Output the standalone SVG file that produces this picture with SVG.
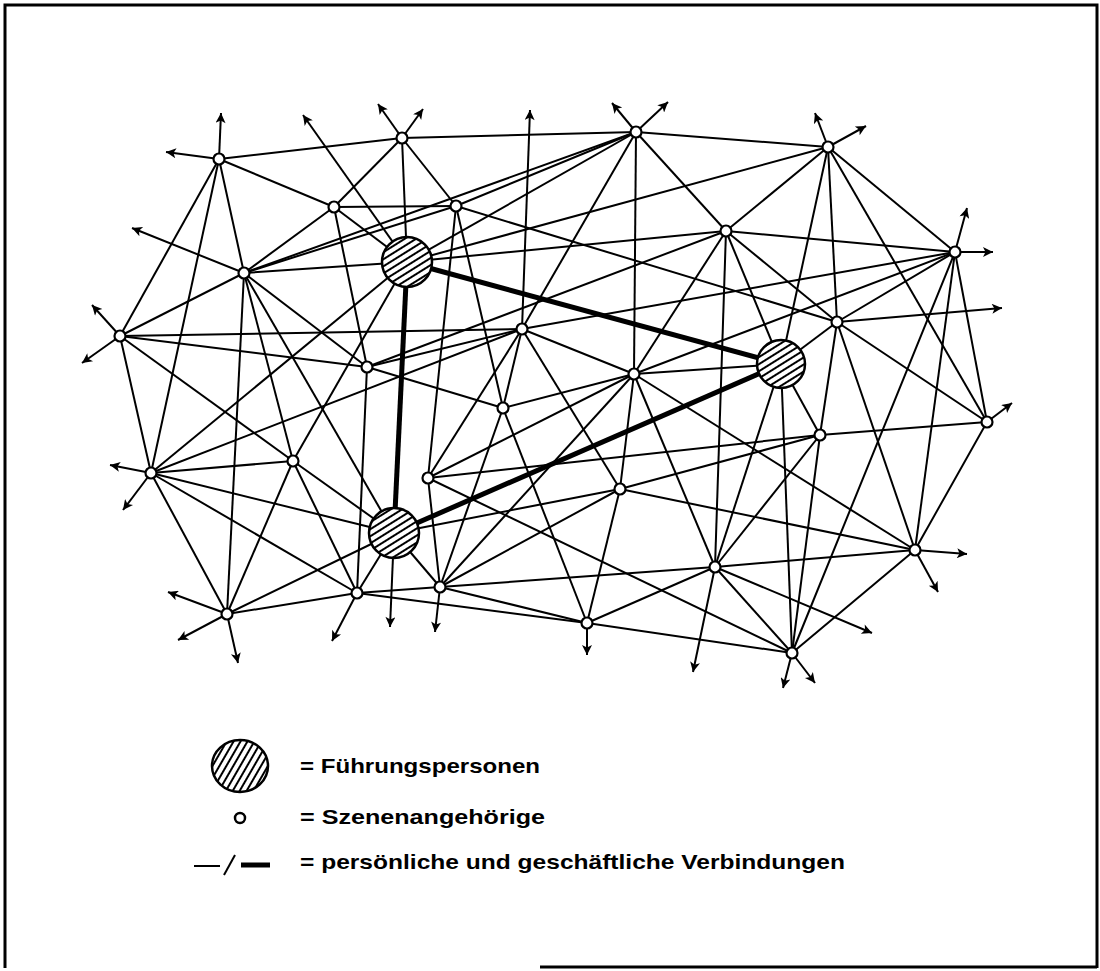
<svg xmlns="http://www.w3.org/2000/svg" width="1100" height="971" viewBox="0 0 1100 971">
  <defs>
    <marker id="arr" viewBox="0 0 10 10" refX="10" refY="5" markerWidth="16" markerHeight="10" markerUnits="userSpaceOnUse" orient="auto">
      <path d="M0,0 L10,5 L0,10 L2.5,5 z" fill="#000"/>
    </marker>
    <pattern id="hatch" patternUnits="userSpaceOnUse" width="6" height="6" patternTransform="rotate(-32)">
      <rect width="6" height="6" fill="#fff"/>
      <line x1="0" y1="3" x2="6" y2="3" stroke="#000" stroke-width="2"/>
    </pattern>
    <pattern id="hatchLegend" patternUnits="userSpaceOnUse" width="6" height="6" patternTransform="rotate(-60)">
      <rect width="6" height="6" fill="#fff"/>
      <line x1="0" y1="3" x2="6" y2="3" stroke="#000" stroke-width="2"/>
    </pattern>
  </defs>
  <style>
    .ln { stroke: #000; stroke-width: 2; fill: none; }
    .thick { stroke: #000; stroke-width: 5; fill: none; }
    .ar { stroke: #000; stroke-width: 2; fill: none; marker-end: url(#arr); }
    .sm { fill: #fff; stroke: #000; stroke-width: 2.2; }
    .big { fill: url(#hatch); stroke: #000; stroke-width: 2.5; }
    .frame { stroke: #000; stroke-width: 3; fill: none; }
    .lg { font-family: "Liberation Sans", Arial, sans-serif; font-weight: bold; font-size: 21px; fill: #000; }
  </style>

  <rect width="1100" height="971" fill="#fff"/>

  <!-- border -->
  <g id="frame">
    <path class="frame" d="M5,968 L5,5 L1097,5 L1097,968"/>
    <path class="frame" d="M540,967 L1097,967"/>
  </g>

  <!-- connectors -->
  <g id="connectors">
    <!-- outer ring -->
    <line class="ln" x1="219" y1="159" x2="402" y2="138"/>
    <line class="ln" x1="402" y1="138" x2="636" y2="132"/>
    <line class="ln" x1="636" y1="132" x2="828" y2="147"/>
    <line class="ln" x1="828" y1="147" x2="955" y2="252"/>
    <line class="ln" x1="955" y1="252" x2="987" y2="422"/>
    <line class="ln" x1="987" y1="422" x2="915" y2="550"/>
    <line class="ln" x1="915" y1="550" x2="792" y2="653"/>
    <line class="ln" x1="792" y1="653" x2="587" y2="623"/>
    <line class="ln" x1="587" y1="623" x2="357" y2="593"/>
    <line class="ln" x1="357" y1="593" x2="227" y2="614"/>
    <line class="ln" x1="227" y1="614" x2="151" y2="473"/>
    <line class="ln" x1="151" y1="473" x2="120" y2="336"/>
    <line class="ln" x1="120" y1="336" x2="219" y2="159"/>
    <!-- A -->
    <line class="ln" x1="219" y1="159" x2="334" y2="207"/>
    <line class="ln" x1="219" y1="159" x2="244" y2="273"/>
    <line class="ln" x1="219" y1="159" x2="151" y2="473"/>
    <!-- B -->
    <line class="ln" x1="334" y1="207" x2="402" y2="138"/>
    <line class="ln" x1="334" y1="207" x2="456" y2="206"/>
    <line class="ln" x1="334" y1="207" x2="407" y2="262"/>
    <line class="ln" x1="334" y1="207" x2="367" y2="367"/>
    <line class="ln" x1="334" y1="207" x2="244" y2="273"/>
    <!-- C -->
    <line class="ln" x1="402" y1="138" x2="456" y2="206"/>
    <line class="ln" x1="402" y1="138" x2="407" y2="262"/>
    <!-- D -->
    <line class="ln" x1="456" y1="206" x2="636" y2="132"/>
    <line class="ln" x1="456" y1="206" x2="244" y2="273"/>
    <line class="ln" x1="456" y1="206" x2="428" y2="478"/>
    <line class="ln" x1="456" y1="206" x2="503" y2="408"/>
    <line class="ln" x1="456" y1="206" x2="837" y2="322"/>
    <!-- E -->
    <line class="ln" x1="636" y1="132" x2="244" y2="273"/>
    <line class="ln" x1="636" y1="132" x2="726" y2="231"/>
    <line class="ln" x1="636" y1="132" x2="634" y2="374"/>
    <line class="ln" x1="636" y1="132" x2="522" y2="329"/>
    <line class="ln" x1="636" y1="132" x2="407" y2="262"/>
    <!-- F -->
    <line class="ln" x1="828" y1="147" x2="407" y2="262"/>
    <line class="ln" x1="828" y1="147" x2="726" y2="231"/>
    <line class="ln" x1="828" y1="147" x2="837" y2="322"/>
    <line class="ln" x1="828" y1="147" x2="987" y2="422"/>
    <line class="ln" x1="828" y1="147" x2="781" y2="364"/>
    <!-- G -->
    <line class="ln" x1="726" y1="231" x2="407" y2="262"/>
    <line class="ln" x1="726" y1="231" x2="367" y2="367"/>
    <line class="ln" x1="726" y1="231" x2="634" y2="374"/>
    <line class="ln" x1="726" y1="231" x2="715" y2="567"/>
    <line class="ln" x1="726" y1="231" x2="781" y2="364"/>
    <line class="ln" x1="726" y1="231" x2="837" y2="322"/>
    <line class="ln" x1="726" y1="231" x2="955" y2="252"/>
    <!-- H -->
    <line class="ln" x1="955" y1="252" x2="522" y2="329"/>
    <line class="ln" x1="955" y1="252" x2="634" y2="374"/>
    <line class="ln" x1="955" y1="252" x2="837" y2="322"/>
    <line class="ln" x1="955" y1="252" x2="792" y2="653"/>
    <line class="ln" x1="955" y1="252" x2="915" y2="550"/>
    <!-- I -->
    <line class="ln" x1="244" y1="273" x2="120" y2="336"/>
    <line class="ln" x1="244" y1="273" x2="407" y2="262"/>
    <line class="ln" x1="244" y1="273" x2="293" y2="461"/>
    <line class="ln" x1="244" y1="273" x2="367" y2="367"/>
    <line class="ln" x1="244" y1="273" x2="227" y2="614"/>
    <line class="ln" x1="244" y1="273" x2="394" y2="533"/>
    <!-- J -->
    <line class="ln" x1="120" y1="336" x2="522" y2="329"/>
    <line class="ln" x1="120" y1="336" x2="367" y2="367"/>
    <line class="ln" x1="120" y1="336" x2="293" y2="461"/>
    <!-- K -->
    <line class="ln" x1="522" y1="329" x2="367" y2="367"/>
    <line class="ln" x1="522" y1="329" x2="503" y2="408"/>
    <line class="ln" x1="522" y1="329" x2="634" y2="374"/>
    <line class="ln" x1="522" y1="329" x2="620" y2="489"/>
    <line class="ln" x1="522" y1="329" x2="428" y2="478"/>
    <line class="ln" x1="522" y1="329" x2="151" y2="473"/>
    <!-- L -->
    <line class="ln" x1="837" y1="322" x2="781" y2="364"/>
    <line class="ln" x1="837" y1="322" x2="820" y2="435"/>
    <line class="ln" x1="837" y1="322" x2="987" y2="422"/>
    <line class="ln" x1="837" y1="322" x2="915" y2="550"/>
    <!-- L2 -->
    <line class="ln" x1="781" y1="364" x2="820" y2="435"/>
    <line class="ln" x1="781" y1="364" x2="715" y2="567"/>
    <line class="ln" x1="781" y1="364" x2="792" y2="653"/>
    <line class="ln" x1="781" y1="364" x2="634" y2="374"/>
    <!-- M -->
    <line class="ln" x1="367" y1="367" x2="357" y2="593"/>
    <line class="ln" x1="367" y1="367" x2="503" y2="408"/>
    <!-- N -->
    <line class="ln" x1="634" y1="374" x2="503" y2="408"/>
    <line class="ln" x1="634" y1="374" x2="428" y2="478"/>
    <line class="ln" x1="634" y1="374" x2="620" y2="489"/>
    <line class="ln" x1="634" y1="374" x2="915" y2="550"/>
    <line class="ln" x1="634" y1="374" x2="715" y2="567"/>
    <line class="ln" x1="634" y1="374" x2="440" y2="587"/>
    <!-- O -->
    <line class="ln" x1="503" y1="408" x2="440" y2="587"/>
    <line class="ln" x1="503" y1="408" x2="587" y2="623"/>
    <!-- P -->
    <line class="ln" x1="151" y1="473" x2="293" y2="461"/>
    <line class="ln" x1="151" y1="473" x2="394" y2="533"/>
    <line class="ln" x1="151" y1="473" x2="357" y2="593"/>
    <line class="ln" x1="151" y1="473" x2="407" y2="262"/>
    <!-- Q -->
    <line class="ln" x1="293" y1="461" x2="357" y2="593"/>
    <line class="ln" x1="293" y1="461" x2="227" y2="614"/>
    <line class="ln" x1="293" y1="461" x2="394" y2="533"/>
    <line class="ln" x1="293" y1="461" x2="407" y2="262"/>
    <!-- R -->
    <line class="ln" x1="428" y1="478" x2="440" y2="587"/>
    <line class="ln" x1="428" y1="478" x2="792" y2="653"/>
    <!-- S -->
    <line class="ln" x1="620" y1="489" x2="915" y2="550"/>
    <line class="ln" x1="620" y1="489" x2="587" y2="623"/>
    <line class="ln" x1="620" y1="489" x2="440" y2="587"/>
    <line class="ln" x1="620" y1="489" x2="394" y2="533"/>
    <!-- T -->
    <line class="ln" x1="820" y1="435" x2="715" y2="567"/>
    <line class="ln" x1="820" y1="435" x2="792" y2="653"/>
    <line class="ln" x1="820" y1="435" x2="428" y2="478"/>
    <line class="ln" x1="820" y1="435" x2="620" y2="489"/>
    <line class="ln" x1="820" y1="435" x2="987" y2="422"/>
    <!-- W -->
    <line class="ln" x1="715" y1="567" x2="915" y2="550"/>
    <line class="ln" x1="715" y1="567" x2="792" y2="653"/>
    <line class="ln" x1="715" y1="567" x2="440" y2="587"/>
    <line class="ln" x1="715" y1="567" x2="587" y2="623"/>
    <!-- X, Y, Z -->
    <line class="ln" x1="440" y1="587" x2="357" y2="593"/>
    <line class="ln" x1="440" y1="587" x2="587" y2="623"/>
    <line class="ln" x1="440" y1="587" x2="394" y2="533"/>
    <line class="ln" x1="357" y1="593" x2="394" y2="533"/>
    <line class="ln" x1="227" y1="614" x2="394" y2="533"/>

    <!-- leader ties -->
    <line class="thick" x1="407" y1="262" x2="781" y2="364"/>
    <line class="thick" x1="407" y1="262" x2="394" y2="533"/>
    <line class="thick" x1="394" y1="533" x2="781" y2="364"/>

    <!-- outward arrows -->
    <line class="ar" x1="219" y1="159" x2="221" y2="113"/>
    <line class="ar" x1="219" y1="159" x2="166" y2="152"/>
    <line class="ar" x1="402" y1="138" x2="378" y2="104"/>
    <line class="ar" x1="402" y1="138" x2="423" y2="109"/>
    <line class="ar" x1="636" y1="132" x2="612" y2="103"/>
    <line class="ar" x1="636" y1="132" x2="668" y2="102"/>
    <line class="ar" x1="828" y1="147" x2="815" y2="113"/>
    <line class="ar" x1="828" y1="147" x2="866" y2="126"/>
    <line class="ar" x1="955" y1="252" x2="967" y2="208"/>
    <line class="ar" x1="955" y1="252" x2="993" y2="252"/>
    <line class="ar" x1="244" y1="273" x2="132" y2="228"/>
    <line class="ar" x1="120" y1="336" x2="92" y2="305"/>
    <line class="ar" x1="120" y1="336" x2="82" y2="363"/>
    <line class="ar" x1="522" y1="329" x2="530" y2="110"/>
    <line class="ar" x1="407" y1="262" x2="303" y2="115"/>
    <line class="ar" x1="837" y1="322" x2="1002" y2="308"/>
    <line class="ar" x1="151" y1="473" x2="110" y2="465"/>
    <line class="ar" x1="151" y1="473" x2="123" y2="510"/>
    <line class="ar" x1="227" y1="614" x2="168" y2="592"/>
    <line class="ar" x1="227" y1="614" x2="178" y2="640"/>
    <line class="ar" x1="227" y1="614" x2="238" y2="663"/>
    <line class="ar" x1="357" y1="593" x2="332" y2="641"/>
    <line class="ar" x1="394" y1="533" x2="390" y2="627"/>
    <line class="ar" x1="440" y1="587" x2="435" y2="632"/>
    <line class="ar" x1="587" y1="623" x2="587" y2="655"/>
    <line class="ar" x1="715" y1="567" x2="693" y2="672"/>
    <line class="ar" x1="715" y1="567" x2="872" y2="633"/>
    <line class="ar" x1="792" y1="653" x2="783" y2="688"/>
    <line class="ar" x1="792" y1="653" x2="815" y2="683"/>
    <line class="ar" x1="915" y1="550" x2="967" y2="554"/>
    <line class="ar" x1="915" y1="550" x2="938" y2="592"/>
    <line class="ar" x1="987" y1="422" x2="1012" y2="403"/>
  </g>

  <!-- scene members -->
  <g id="n-A"><circle class="sm" cx="219" cy="159" r="5.5"/></g>
  <g id="n-B"><circle class="sm" cx="334" cy="207" r="5.5"/></g>
  <g id="n-C"><circle class="sm" cx="402" cy="138" r="5.5"/></g>
  <g id="n-D"><circle class="sm" cx="456" cy="206" r="5.5"/></g>
  <g id="n-E"><circle class="sm" cx="636" cy="132" r="5.5"/></g>
  <g id="n-F"><circle class="sm" cx="828" cy="147" r="5.5"/></g>
  <g id="n-G"><circle class="sm" cx="726" cy="231" r="5.5"/></g>
  <g id="n-H"><circle class="sm" cx="955" cy="252" r="5.5"/></g>
  <g id="n-I"><circle class="sm" cx="244" cy="273" r="5.5"/></g>
  <g id="n-J"><circle class="sm" cx="120" cy="336" r="5.5"/></g>
  <g id="n-K"><circle class="sm" cx="522" cy="329" r="5.5"/></g>
  <g id="n-L"><circle class="sm" cx="837" cy="322" r="5.5"/></g>
  <g id="n-M"><circle class="sm" cx="367" cy="367" r="5.5"/></g>
  <g id="n-N"><circle class="sm" cx="634" cy="374" r="5.5"/></g>
  <g id="n-O"><circle class="sm" cx="503" cy="408" r="5.5"/></g>
  <g id="n-P"><circle class="sm" cx="151" cy="473" r="5.5"/></g>
  <g id="n-Q"><circle class="sm" cx="293" cy="461" r="5.5"/></g>
  <g id="n-R"><circle class="sm" cx="428" cy="478" r="5.5"/></g>
  <g id="n-S"><circle class="sm" cx="620" cy="489" r="5.5"/></g>
  <g id="n-T"><circle class="sm" cx="820" cy="435" r="5.5"/></g>
  <g id="n-U"><circle class="sm" cx="987" cy="422" r="5.5"/></g>
  <g id="n-V"><circle class="sm" cx="915" cy="550" r="5.5"/></g>
  <g id="n-W"><circle class="sm" cx="715" cy="567" r="5.5"/></g>
  <g id="n-X"><circle class="sm" cx="440" cy="587" r="5.5"/></g>
  <g id="n-Y"><circle class="sm" cx="357" cy="593" r="5.5"/></g>
  <g id="n-Z"><circle class="sm" cx="227" cy="614" r="5.5"/></g>
  <g id="n-AA"><circle class="sm" cx="587" cy="623" r="5.5"/></g>
  <g id="n-AB"><circle class="sm" cx="792" cy="653" r="5.5"/></g>

  <!-- leaders -->
  <g id="lead-1"><circle class="big" cx="407" cy="262" r="25"/></g>
  <g id="lead-2"><circle class="big" cx="781" cy="364" r="24"/></g>
  <g id="lead-3"><circle class="big" cx="394" cy="533" r="25"/></g>

  <!-- legend -->
  <g id="legend">
    <ellipse cx="240" cy="766" rx="28" ry="26" fill="url(#hatchLegend)" stroke="#000" stroke-width="2.5"/>
    <text class="lg" x="300" y="773" textLength="240" lengthAdjust="spacingAndGlyphs">= Führungspersonen</text>
    <circle cx="240" cy="818" r="5" fill="#fff" stroke="#000" stroke-width="2.5"/>
    <text class="lg" x="300" y="824" textLength="245" lengthAdjust="spacingAndGlyphs">= Szenenangehörige</text>
    <line x1="194" y1="866" x2="220" y2="866" stroke="#000" stroke-width="2"/>
    <line x1="224" y1="875" x2="235" y2="855" stroke="#000" stroke-width="2"/>
    <line x1="241" y1="865" x2="270" y2="865" stroke="#000" stroke-width="5"/>
    <text class="lg" x="300" y="869" textLength="545" lengthAdjust="spacingAndGlyphs">= persönliche und geschäftliche Verbindungen</text>
  </g>
</svg>
